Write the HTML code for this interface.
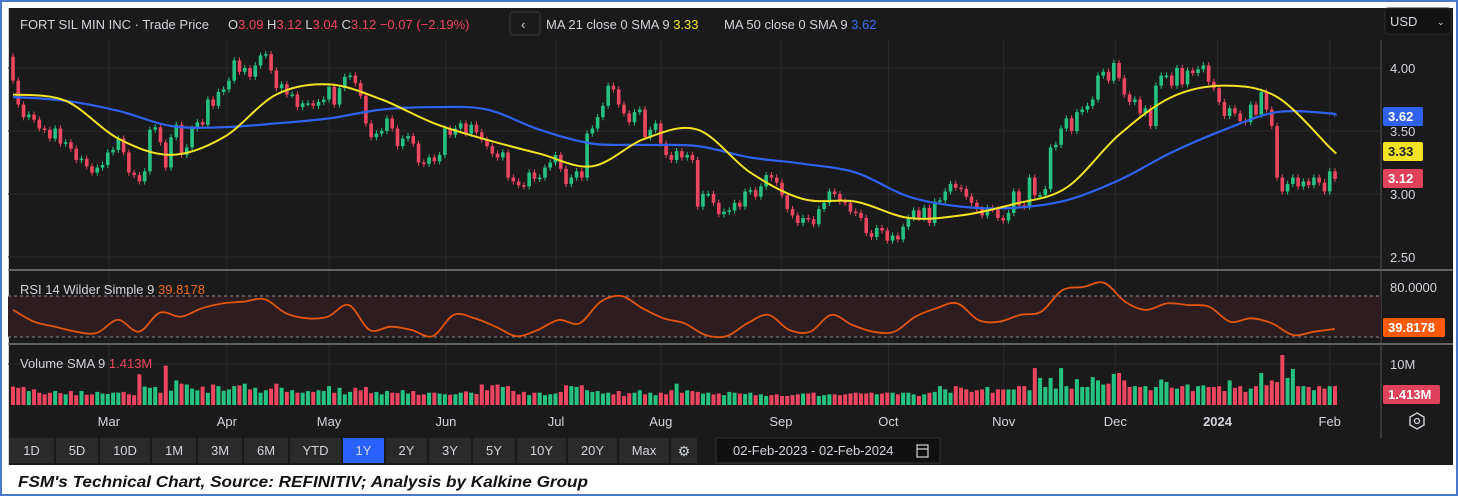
<!DOCTYPE html>
<html><head><meta charset="utf-8"><style>
html,body{margin:0;padding:0;background:#fff;width:1458px;height:496px;overflow:hidden}
svg{display:block;font-family:"Liberation Sans",sans-serif}
</style></head><body>
<svg id="c" width="1458" height="496" viewBox="0 0 1458 496" xmlns="http://www.w3.org/2000/svg">
<rect x="1" y="1" width="1456" height="494" fill="#fff" stroke="#4a78c8" stroke-width="2"/>
<rect x="8" y="8" width="1445" height="457" fill="#1a1a1a"/>
<line x1="8.5" y1="8" x2="8.5" y2="465" stroke="#cfcfcf" stroke-width="1"/>
<g id="grid"></g>
<line x1="8" y1="270" x2="1453" y2="270" stroke="#7a7a7a" stroke-width="1.5"/>
<line x1="8" y1="344" x2="1453" y2="344" stroke="#7a7a7a" stroke-width="1.5"/>
<line x1="1381" y1="40" x2="1381" y2="438" stroke="#555" stroke-width="1"/>
<rect x="8" y="296" width="1373" height="41" fill="#2d1d21"/>
<line x1="8" y1="296" x2="1381" y2="296" stroke="#8a8a8a" stroke-dasharray="3,3"/>
<line x1="8" y1="337" x2="1381" y2="337" stroke="#8a8a8a" stroke-dasharray="3,3"/>
<g id="vol"></g>
<g id="candles"></g>
<g id="lines"></g>
<g id="rsi"></g>
<g id="axes"></g>

<g font-size="13" fill="#d1d4dc">
<text x="20" y="29">FORT SIL MIN INC · Trade Price</text>
<text x="228" y="29">O<tspan fill="#f0455f">3.09</tspan> H<tspan fill="#f0455f">3.12</tspan> L<tspan fill="#f0455f">3.04</tspan> C<tspan fill="#f0455f">3.12</tspan> <tspan fill="#f0455f">−0.07 (−2.19%)</tspan></text>
<rect x="510" y="12" width="30" height="23" rx="3" fill="#1a1a1a" stroke="#3a3a3a"/>
<text x="521" y="29">‹</text>
<text x="546" y="29">MA 21 close 0 SMA 9 <tspan fill="#f5e625">3.33</tspan></text>
<text x="724" y="29">MA 50 close 0 SMA 9 <tspan fill="#3b6cf0">3.62</tspan></text>
<text x="20" y="294">RSI 14 Wilder Simple 9 <tspan fill="#f06a1a">39.8178</tspan></text>
<text x="20" y="368">Volume SMA 9 <tspan fill="#f0455f">1.413M</tspan></text>
</g>
<rect x="1385" y="8" width="66" height="26" rx="3" fill="#121212" stroke="#2c2c2c"/>
<text x="1390" y="26" font-size="13" fill="#d1d4dc">USD</text>
<text x="1437" y="25" font-size="9" fill="#d1d4dc">⌄</text>

<g id="buttons" font-size="13" fill="#d1d4dc"></g>
<rect x="716" y="438" width="224" height="25" fill="#101010" stroke="#333"/>
<text x="733" y="455" font-size="13" fill="#d1d4dc">02-Feb-2023 - 02-Feb-2024</text>
<rect x="917" y="445" width="11" height="12" fill="none" stroke="#d1d4dc" stroke-width="1.2"/>
<line x1="917" y1="449" x2="928" y2="449" stroke="#d1d4dc" stroke-width="1.2"/>
<polygon points="1417,413 1424,417 1424,425 1417,429 1410,425 1410,417" fill="none" stroke="#d1d4dc" stroke-width="1.4"/>
<circle cx="1417" cy="421" r="2.5" fill="none" stroke="#d1d4dc" stroke-width="1.3"/>
<text x="18" y="487" font-size="16" font-weight="bold" font-style="italic" fill="#111" textLength="570" lengthAdjust="spacingAndGlyphs">FSM's Technical Chart, Source: REFINITIV; Analysis by Kalkine Group</text>
</svg>
<script>
const closes=[3.90,3.71,3.61,3.63,3.59,3.52,3.51,3.44,3.52,3.40,3.41,3.36,3.27,3.28,3.22,3.17,3.21,3.23,3.33,3.35,3.44,3.33,3.17,3.15,3.10,3.18,3.51,3.53,3.41,3.21,3.45,3.55,3.31,3.37,3.52,3.57,3.55,3.75,3.70,3.81,3.83,3.90,4.06,3.97,4.00,3.93,4.02,4.10,4.11,3.98,3.84,3.87,3.79,3.79,3.69,3.72,3.72,3.70,3.73,3.75,3.85,3.71,3.84,3.93,3.94,3.88,3.78,3.56,3.45,3.48,3.50,3.60,3.52,3.38,3.44,3.46,3.40,3.25,3.24,3.29,3.26,3.31,3.52,3.47,3.52,
3.56,3.48,3.55,3.49,3.43,3.38,3.32,3.29,3.33,3.13,3.10,3.07,3.06,3.17,3.12,3.13,3.21,3.25,3.31,3.20,3.08,3.13,3.18,3.13,3.48,3.52,3.61,3.70,3.86,3.83,3.71,3.64,3.57,3.65,3.67,3.45,3.51,3.56,3.40,3.31,3.27,3.34,3.29,3.31,3.27,2.90,3.00,3.00,2.93,2.84,2.86,2.87,2.93,2.90,3.02,3.03,2.98,3.06,3.15,3.13,3.09,2.99,2.88,2.83,2.77,2.81,2.80,2.76,2.88,2.93,3.02,3.00,2.94,2.93,2.86,2.85,2.81,2.69,2.66,2.73,2.71,2.63,2.67,2.64,2.74,2.81,
2.87,2.81,2.89,2.77,2.94,2.95,3.02,3.08,3.05,3.04,2.98,2.93,2.88,2.83,2.89,2.88,2.81,2.79,2.85,3.02,2.91,2.90,3.13,2.99,2.99,3.04,3.37,3.39,3.52,3.60,3.50,3.65,3.67,3.70,3.75,3.94,3.97,3.90,4.04,3.92,3.79,3.73,3.75,3.64,3.68,3.54,3.86,3.94,3.94,3.86,4.00,3.87,3.98,3.96,3.99,4.02,3.89,3.84,3.73,3.62,3.68,3.64,3.58,3.57,3.71,3.63,3.81,3.67,3.54,3.13,3.02,3.08,3.13,3.06,3.10,3.07,3.13,3.09,3.02,3.18,3.12];
const firstOpen=4.09;
const volumes=[4.5,4.2,4.4,3.4,3.8,3.0,2.6,3.0,3.4,2.9,2.6,3.4,2.4,3.4,2.5,2.6,3.2,2.8,2.7,3.0,3.0,3.2,2.6,2.4,
7.5,4.5,4.2,4.4,3.0,9.6,3.5,6.0,5.2,5.0,4.0,
3.6,4.5,3.0,5.0,4.6,3.5,3.8,4.6,4.8,5.2,3.8,4.2,3.0,3.6,4.0,5.2,4.2,3.2,3.6,3.0,3.0,3.4,3.2,3.6,3.4,
4.6,3.0,4.2,2.6,3.2,4.2,3.6,4.4,2.9,3.2,2.6,3.4,3.0,2.9,3.6,2.8,3.4,2.5,2.6,3.0,
3.0,2.8,2.6,2.5,2.6,3.0,3.3,3.0,2.7,5.0,3.6,4.8,5.0,4.4,4.6,3.4,2.6,3.2,2.4,3.0,
3.0,2.4,2.6,2.8,3.2,4.8,4.6,4.4,4.8,3.6,3.2,3.4,2.8,3.0,2.6,3.4,2.2,2.9,3.0,3.6,
2.6,3.0,2.4,3.0,2.6,3.6,5.2,3.0,3.6,3.4,3.2,2.8,3.0,2.6,2.8,2.4,3.2,3.0,2.8,2.7,
3.0,2.4,2.6,2.2,2.4,2.6,2.2,2.2,2.4,2.6,2.8,2.8,3.0,2.2,2.4,2.6,2.6,2.4,2.6,2.8,
3.0,2.8,2.8,3.0,2.6,2.8,3.0,3.0,2.6,3.0,3.0,2.6,2.2,2.6,3.0,
3.2,4.6,3.8,3.0,4.6,4.2,3.8,3.2,3.6,3.8,4.4,3.0,3.8,3.8,3.8,3.8,4.6,4.6,3.6,9.0,6.6,4.4,6.6,4.0,
9.0,4.6,4.0,6.3,4.4,4.4,6.8,6.0,5.0,5.2,7.6,7.8,6.0,4.4,4.6,4.4,4.6,3.6,4.4,6.2,5.6,4.2,4.0,4.6,5.0,
3.4,4.6,4.8,4.4,4.4,4.6,3.4,6.0,4.2,4.6,3.2,4.0,4.6,7.8,4.8,6.0,5.6,12.2,6.6,8.8,4.6,4.6,4.4,3.6,4.6,4.0,4.6,4.6,1.7];
const ma21=[3.79,3.74,3.44,3.31,3.45,3.79,3.87,3.75,3.56,3.43,3.32,3.22,3.44,3.51,3.17,2.96,2.94,2.81,2.83,2.92,3.05,3.47,3.77,3.86,3.77,3.37,3.33];
const ma50=[3.77,3.74,3.66,3.54,3.53,3.56,3.60,3.67,3.69,3.67,3.51,3.40,3.39,3.38,3.29,3.24,3.17,2.98,2.90,2.89,2.95,3.11,3.33,3.51,3.65,3.64,3.62];
const rsiValues=[63,48.7,42.6,36.5,35,51,36.5,59.6,54.8,65,71,73,76,59,52.8,54.8,69,38.5,42.6,38.5,31,57,52.8,42.6,31,38.5,50.7,46.7,73,80,65,52.8,46.7,32.4,31,46.7,57,38.5,36.5,57,44.6,36.5,36.5,54.8,65,71,50.7,48.7,57,60.9,87,91,96,73,63,71,69,67,48.7,52.8,46.7,32.4,36.5,39.8];
const monthLabels=["Mar","Apr","May","Jun","Jul","Aug","Sep","Oct","Nov","Dec","2024","Feb"];
const monthIdx=[18.2,40.6,60,82.2,103.1,123,145.8,166.2,188.1,209.3,228.7,250];
const priceTicks=[4.00,3.50,3.00,2.50];
const buttonLabels=["1D","5D","10D","1M","3M","6M","YTD","1Y","2Y","3Y","5Y","10Y","20Y","Max"];

const NS="http://www.w3.org/2000/svg";
function mk(tag,attrs,parent){const e=document.createElementNS(NS,tag);for(const k in attrs)e.setAttribute(k,attrs[k]);parent.appendChild(e);return e;}
const X0=13,X1=1335,N=closes.length;
const xIdx=i=>X0+i*(X1-X0)/(N-1);
const yP=p=>68+(4.0-p)*126;
const yR=v=>296+(80-v)*0.82;
const yV=v=>405-v*4.1;
const G="#26c281",R="#ec4660";
function smooth(pts){let d='M'+pts[0][0].toFixed(1)+','+pts[0][1].toFixed(1);
for(let i=0;i<pts.length-1;i++){const p0=pts[i-1]||pts[i],p1=pts[i],p2=pts[i+1],p3=pts[i+2]||p2;
const c1x=p1[0]+(p2[0]-p0[0])/6,c1y=p1[1]+(p2[1]-p0[1])/6,c2x=p2[0]-(p3[0]-p1[0])/6,c2y=p2[1]-(p3[1]-p1[1])/6;
d+='C'+c1x.toFixed(1)+','+c1y.toFixed(1)+' '+c2x.toFixed(1)+','+c2y.toFixed(1)+' '+p2[0].toFixed(1)+','+p2[1].toFixed(1);}
return d;}
const grid=document.getElementById('grid');
monthIdx.forEach((m,k)=>{const l=mk('line',{x1:xIdx(m),x2:xIdx(m),y1:40,y2:405,stroke:'#2a2a2a'},grid);

});
priceTicks.forEach(p=>{const l=mk('line',{x1:8,x2:1381,y1:yP(p),y2:yP(p),stroke:'#2a2a2a'},grid);

});
mk('line',{x1:8,x2:1381,y1:364,y2:364,stroke:'#2a2a2a'},grid);
const vg=document.getElementById('vol');
for(let i=0;i<Math.min(N,volumes.length);i++){const o=i?closes[i-1]:firstOpen;const up=closes[i]>=o;
const r=mk('rect',{x:xIdx(i)-2,y:yV(volumes[i]),width:4,height:405-yV(volumes[i]),fill:up?G:R},vg);

}
const cg=document.getElementById('candles');
for(let i=0;i<N;i++){const o=i?closes[i-1]:firstOpen,c=closes[i],up=c>=o,col=up?G:R;
const hi=Math.max(o,c)+0.025,lo=Math.min(o,c)-0.025;
const w=mk('line',{x1:xIdx(i),x2:xIdx(i),y1:yP(hi),y2:yP(lo),stroke:col,'stroke-width':1},cg);


const top=yP(Math.max(o,c)),h=Math.max(1.5,yP(Math.min(o,c))-top);
const b=mk('rect',{x:xIdx(i)-1.8,y:top,width:3.6,height:h,fill:col},cg);

}
const lg=document.getElementById('lines');
function maPath(arr){return smooth(arr.map((v,k)=>[xIdx(Math.min(k*10,N-1)),yP(v)]));}
const b50=mk('path',{d:maPath(ma50),fill:'none',stroke:'#2f62f0','stroke-width':2.2},lg);


const y21=mk('path',{d:maPath(ma21),fill:'none',stroke:'#f2e325','stroke-width':2},lg);


const rg=document.getElementById('rsi');
const rp=smooth(rsiValues.map((v,k)=>[X0+k*(X1-X0)/(rsiValues.length-1),yR(v)]));
const rl=mk('path',{d:rp,fill:'none',stroke:'#e0560f','stroke-width':1.8},rg);


const ag=document.getElementById('axes');
priceTicks.forEach(p=>{const t=mk('text',{x:1390,y:yP(p)+5,'font-size':13,fill:'#d1d4dc'},ag);t.textContent=p.toFixed(2);

});
monthLabels.forEach((m,k)=>{const t=mk('text',{x:xIdx(monthIdx[k]),y:426,'font-size':13,fill:'#d1d4dc','text-anchor':'middle','font-weight':m==='2024'?'bold':'normal'},ag);t.textContent=m;

});
function tag(y,h,w,fill,txt,tc,name){const r=mk('rect',{x:1383,y:y,width:w,height:h,rx:2,fill:fill},ag);


const t=mk('text',{x:1388,y:y+h-5,'font-size':13,fill:tc,'font-weight':'bold'},ag);t.textContent=txt;}
const t80=mk('text',{x:1390,y:292,'font-size':13,fill:'#d1d4dc'},ag);t80.textContent='80.0000';


const t10=mk('text',{x:1390,y:369,'font-size':13,fill:'#d1d4dc'},ag);t10.textContent='10M';


tag(107,19,40,'#2f62f0','3.62','#fff','ma50-price-tag');
tag(142,19,40,'#f2e325','3.33','#222','ma21-price-tag');
tag(169,19,40,'#e0425c','3.12','#fff','last-price-tag');
tag(318,19,62,'#ff5a0a','39.8178','#fff','rsi-value-tag');
tag(385,19,57,'#e0425c','1.413M','#fff','volume-value-tag');
const bg=document.getElementById('buttons');
const bx=[9,56,100,152,198,244,290,343,386,429,473,517,568,619,671];
buttonLabels.forEach((l,k)=>{const x=bx[k],w=bx[k+1]-x-2;
const r=mk('rect',{x:x,y:438,width:w,height:25,fill:l==='1Y'?'#2962ff':'#2a2a2a'},bg);


const t=mk('text',{x:x+w/2,y:455,'text-anchor':'middle'},bg);t.textContent=l;});
const gr=mk('rect',{x:671,y:438,width:26,height:25,fill:'#2a2a2a'},bg);


const gt=mk('text',{x:684,y:456,'text-anchor':'middle','font-size':14},bg);gt.textContent='⚙';
</script>
</body></html>
